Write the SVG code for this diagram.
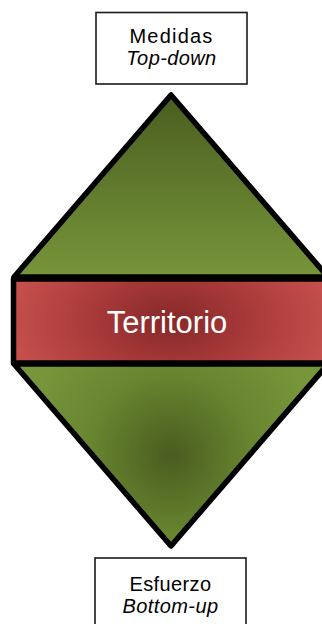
<svg xmlns="http://www.w3.org/2000/svg" width="322" height="624" viewBox="0 0 322 624">
  <defs>
    <linearGradient id="gTop" x1="0" y1="0" x2="0" y2="1">
      <stop offset="0" stop-color="#4a5e20"/>
      <stop offset="1" stop-color="#77953a"/>
    </linearGradient>
    <radialGradient id="gBot" cx="171" cy="455" r="150" gradientUnits="userSpaceOnUse">
      <stop offset="0" stop-color="#4a5c1f"/>
      <stop offset="0.55" stop-color="#688630"/>
      <stop offset="1" stop-color="#77953a"/>
    </radialGradient>
    <radialGradient id="gRed" cx="171" cy="321" r="160" gradientUnits="userSpaceOnUse" gradientTransform="translate(171 321) scale(1 0.6) translate(-171 -321)">
      <stop offset="0" stop-color="#862828"/>
      <stop offset="0.5" stop-color="#a83a39"/>
      <stop offset="1" stop-color="#c44f4c"/>
    </radialGradient>
  </defs>
  <style>
    .box { fill: #ffffff; stroke: #1a1a1a; stroke-width: 1.6; }
    .lbl { font-family: "Liberation Sans", Arial, sans-serif; font-size: 20px; fill: #000; text-anchor: middle; }
    .it { font-style: italic; }
    .shape { stroke: #000; stroke-width: 5.5; stroke-linejoin: round; }
  </style>
  <g id="medidas">
    <rect class="box" x="96" y="12.5" width="151" height="71.5"/>
    <text class="lbl" x="171.5" y="43" letter-spacing="1.2">Medidas</text>
    <text class="lbl it" x="171.5" y="65" letter-spacing="0.4">Top-down</text>
  </g>
  <g id="top-triangle">
    <polygon class="shape" fill="url(#gTop)" points="171,95 14,277 328,277"/>
  </g>
  <g id="bottom-triangle">
    <polygon class="shape" fill="url(#gBot)" points="14,364 328,364 171,546"/>
  </g>
  <g id="territorio">
    <rect class="shape" fill="url(#gRed)" x="13.5" y="279" width="320" height="84" stroke-linejoin="miter"/>
    <text x="167" y="333" font-family="'Liberation Sans', Arial, sans-serif" font-size="31" fill="#ffffff" text-anchor="middle">Territorio</text>
  </g>
  <g id="esfuerzo">
    <rect class="box" x="95" y="558" width="151" height="80"/>
    <text class="lbl" x="170.5" y="591" letter-spacing="0.4">Esfuerzo</text>
    <text class="lbl it" x="170.5" y="613" letter-spacing="0.4">Bottom-up</text>
  </g>
  <g id="connectors"/>
</svg>
